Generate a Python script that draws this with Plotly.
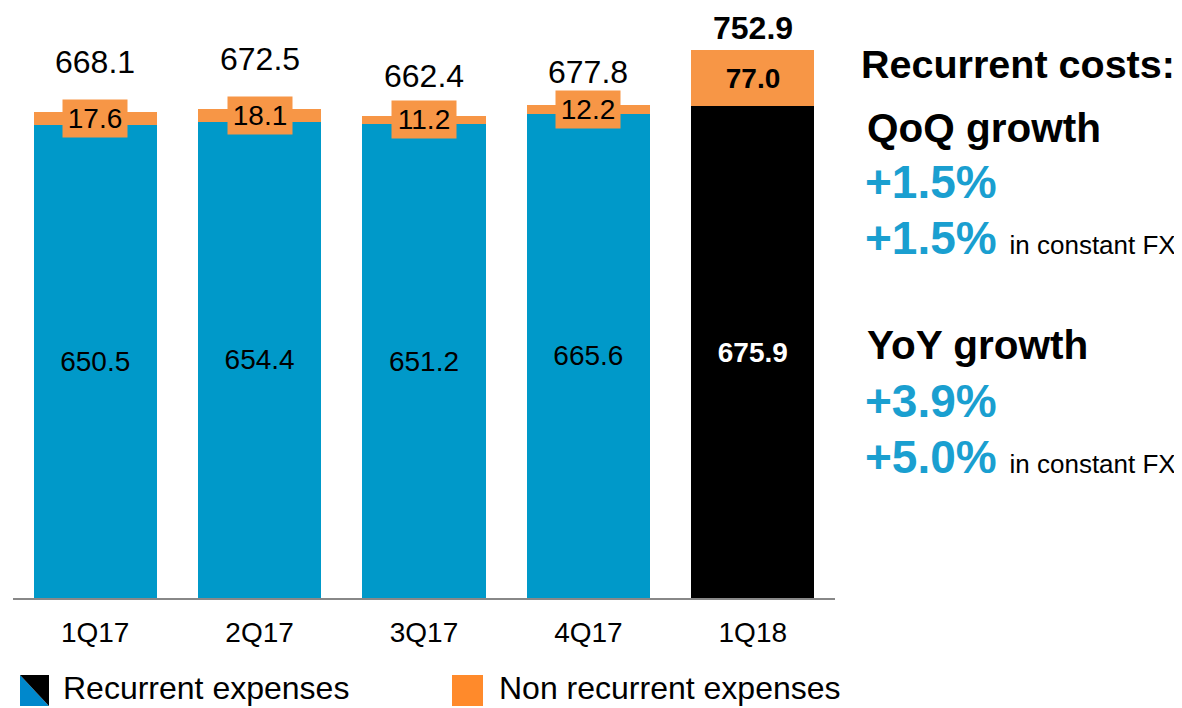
import plotly.graph_objects as go

categories = ["1Q17", "2Q17", "3Q17", "4Q17", "1Q18"]
recurrent = [650.5, 654.4, 651.2, 665.6, 675.9]
non_recurrent = [17.6, 18.1, 11.2, 12.2, 77.0]
totals = [668.1, 672.5, 662.4, 677.8, 752.9]
total_label_shift = [50, 50, 40, 33, 22]

panel_title = "Recurrent costs:"
qoq_title = "QoQ growth"
qoq_values = ["+1.5%", "+1.5%"]
yoy_title = "YoY growth"
yoy_values = ["+3.9%", "+5.0%"]
fx_note = "in constant FX"
legend_names = ["Recurrent expenses", "Non recurrent expenses"]

BLUE = "#0099C9"
ORANGE = "#F79646"
TEXT_BLUE = "#1A9FD0"
FONT = "Liberation Sans, Arial, sans-serif"

# page offset of the figure inside the html body
OFF = 8
W, H = 1182 - OFF, 708 - OFF
# plot area in page pixels: x 13..835, y 8..598
L = 13 - OFF
R = W - (835 - OFF)
T = 0
B = H - (598 - OFF)
PW, PH = W - L - R, H - T - B
Y_MAX = 752.9 * PH / (598 - 50)


def px(x):
    return (x - OFF - L) / PW


def py(y):
    return (H - B - (y - OFF)) / PH


rec_colors = [BLUE] * 4 + ["black"]
rec_text = [f"{v:.1f}" if i < 4 else f"<b>{v:.1f}</b>" for i, v in enumerate(recurrent)]
rec_text_colors = ["black"] * 4 + ["white"]

fig = go.Figure()
fig.add_trace(go.Bar(
    x=categories, y=recurrent, name=legend_names[0],
    marker=dict(color=rec_colors, line=dict(width=0)),
    text=rec_text, textposition="inside", insidetextanchor="middle",
    textfont=dict(size=28, color=rec_text_colors, family=FONT),
    constraintext="none", hoverinfo="skip",
))
fig.add_trace(go.Bar(
    x=categories, y=non_recurrent, name=legend_names[1],
    marker=dict(color=ORANGE, line=dict(width=0)),
    hoverinfo="skip",
))

annotations = []
# segment labels in orange boxes
for i, (c, r, n) in enumerate(zip(categories, recurrent, non_recurrent)):
    bold = i == len(categories) - 1
    annotations.append(dict(
        x=c, y=r + n / 2, xref="x", yref="y",
        text=f"<b>{n:.1f}</b>" if bold else f"{n:.1f}",
        showarrow=False, bgcolor=ORANGE, width=62, height=35, borderpad=1,
        font=dict(size=28, color="black", family=FONT),
        xanchor="center", yanchor="middle",
    ))
# totals
for i, (c, t) in enumerate(zip(categories, totals)):
    bold = i == len(categories) - 1
    annotations.append(dict(
        x=c, y=t, xref="x", yref="y", yshift=total_label_shift[i],
        text=f"<b>{t:.1f}</b>" if bold else f"{t:.1f}",
        showarrow=False, font=dict(size=32, color="black", family=FONT),
        xanchor="center", yanchor="middle",
    ))

# right panel
annotations.append(dict(x=px(859), y=py(64), xref="paper", yref="paper", text=f"<b>{panel_title}</b>",
                        showarrow=False, xanchor="left", yanchor="middle",
                        font=dict(size=39.5, color="black", family=FONT)))
annotations.append(dict(x=px(865), y=py(128), xref="paper", yref="paper", text=f"<b>{qoq_title}</b>",
                        showarrow=False, xanchor="left", yanchor="middle",
                        font=dict(size=40.5, color="black", family=FONT)))
annotations.append(dict(x=px(865), y=py(345), xref="paper", yref="paper", text=f"<b>{yoy_title}</b>",
                        showarrow=False, xanchor="left", yanchor="middle",
                        font=dict(size=40.5, color="black", family=FONT)))

for vals, ys in ((qoq_values, (182, 238)), (yoy_values, (401, 457))):
    annotations.append(dict(x=px(863), y=py(ys[0]), xref="paper", yref="paper", text=f"<b>{vals[0]}</b>",
                            showarrow=False, xanchor="left", yanchor="middle",
                            font=dict(size=46, color=TEXT_BLUE, family=FONT)))
    annotations.append(dict(x=px(863), y=py(ys[1]), xref="paper", yref="paper",
                            text=f"<b>{vals[1]}</b> <span style=\"font-size:26px;color:black\">{fx_note}</span>",
                            showarrow=False, xanchor="left", yanchor="middle",
                            font=dict(size=46, color=TEXT_BLUE, family=FONT)))

# legend texts
annotations.append(dict(x=px(61), y=py(688), xref="paper", yref="paper", text=legend_names[0],
                        showarrow=False, xanchor="left", yanchor="middle",
                        font=dict(size=32, color="black", family=FONT)))
annotations.append(dict(x=px(497), y=py(688), xref="paper", yref="paper", text=legend_names[1],
                        showarrow=False, xanchor="left", yanchor="middle",
                        font=dict(size=32, color="black", family=FONT)))

shapes = [
    dict(type="path", xref="paper", yref="paper",
         path=f"M {px(20)},{py(675)} L {px(20)},{py(706)} L {px(49)},{py(706)} Z",
         fillcolor="#0088CC", line=dict(width=0)),
    dict(type="path", xref="paper", yref="paper",
         path=f"M {px(20)},{py(675)} L {px(49)},{py(675)} L {px(49)},{py(706)} Z",
         fillcolor="black", line=dict(width=0)),
    dict(type="rect", xref="paper", yref="paper", x0=px(452), x1=px(483), y0=py(675), y1=py(706),
         fillcolor="#FF8A2B", line=dict(width=0)),
]

fig.update_layout(
    barmode="stack", bargap=0.25,
    width=W, height=H,
    margin=dict(l=L, r=R, t=T, b=B, pad=0),
    paper_bgcolor="white", plot_bgcolor="white",
    showlegend=False,
    annotations=annotations, shapes=shapes,
    font=dict(family=FONT, color="black"),
    xaxis=dict(showline=True, linecolor="#888888", linewidth=2, showgrid=False, zeroline=False,
               tickfont=dict(size=28, color="black", family=FONT), ticks="", ticklabelstandoff=8),
    yaxis=dict(visible=False, range=[0, Y_MAX], showgrid=False, zeroline=False),
)

fig.write_html("out.html")
